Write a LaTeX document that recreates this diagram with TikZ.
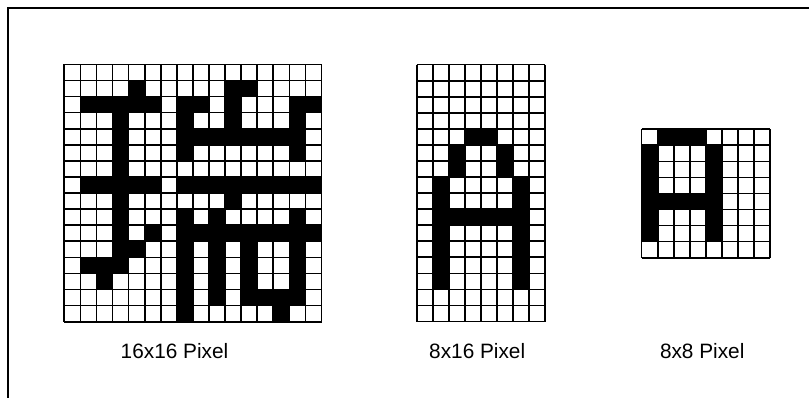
\documentclass[tikz,border=0pt]{standalone}
\usepackage{fontspec}
\setmainfont{Liberation Sans}
\tikzset{
  gridline/.style={line width=1.7pt, black},
  framel/.style={line width=1.8pt, black},
  pixfill/.style={fill=black},
  caption/.style={anchor=base, inner sep=0pt, font=\fontsize{20.8}{23}\selectfont},
}
\newcommand\pixgrid[6]{% x0, y0, cell, cols, rows, runs
  \foreach \r/\a/\b in {#6}{%
    \fill[pixfill] ({#1+\a*#3},{#2+\r*#3}) rectangle ({#1+(\b+1)*#3},{#2+(\r+1)*#3});
  }
  \foreach \i in {0,...,#4}{\draw[gridline] ({#1+\i*#3},{#2}) -- ({#1+\i*#3},{#2+#5*#3});}
  \foreach \j in {0,...,#5}{\draw[gridline] ({#1},{#2+\j*#3}) -- ({#1+#4*#3},{#2+\j*#3});}
}
\begin{document}
\begin{tikzpicture}[x=1pt,y=-1pt]
\useasboundingbox (0,0) rectangle (809,398);
\fill[white] (0,0) rectangle (809,398);
\draw[framel] (8,400) -- (8,8) -- (812,8);
% 16x16
\pixgrid{64.3}{64.4}{16.08}{16}{16}{1/4/4,1/10/11,
 2/1/5,2/7/8,2/10/10,2/14/15,
 3/3/3,3/7/7,3/10/10,3/14/14,
 4/3/3,4/7/14,
 5/3/3,5/7/7,5/14/14,
 6/3/3,
 7/1/5,7/7/15,
 8/3/3,8/10/10,
 9/3/3,9/7/7,9/9/9,9/14/14,
 10/3/3,10/5/5,10/7/15,
 11/3/4,11/7/7,11/9/9,11/11/11,11/14/14,
 12/1/3,12/7/7,12/9/9,12/11/11,12/14/14,
 13/2/2,13/7/7,13/9/9,13/11/11,13/14/14,
 14/7/7,14/9/9,14/11/14,
 15/7/7,15/13/13}
% 8x16
\pixgrid{416.7}{64.6}{16.06}{8}{16}{4/3/4,5/2/2,5/5/5,6/2/2,6/5/5,
 7/1/1,7/6/6,8/1/1,8/6/6,9/1/6,
 10/1/1,10/6/6,11/1/1,11/6/6,12/1/1,12/6/6,13/1/1,13/6/6}
% 8x8
\pixgrid{641.6}{129.3}{16.05}{8}{8}{0/1/3,1/0/0,1/4/4,2/0/0,2/4/4,3/0/0,3/4/4,
 4/0/4,5/0/0,5/4/4,6/0/0,6/4/4}
\node[caption] (lab1) at (174.5,358.3) {16x16 Pixel};
\node[caption] (lab2) at (477.2,358.3) {8x16 Pixel};
\node[caption] (lab3) at (702.2,358.3) {8x8 Pixel};
\end{tikzpicture}
\end{document}
